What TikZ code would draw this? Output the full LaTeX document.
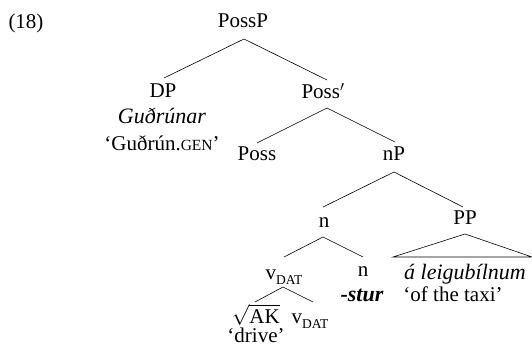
\documentclass[tikz,border=0pt]{standalone}
\usepackage{fontspec}
\setmainfont{Liberation Serif}
\newcommand{\smallcapsgen}{{\fontsize{15.5}{15.5}\selectfont GEN}}
\newcommand{\vdat}{v\raisebox{-0.28em}{\fontsize{13.5}{13.5}\selectfont DAT}}
\begin{document}
\begin{tikzpicture}[x=1pt,y=-1pt,
  lab/.style={font=\fontsize{21}{24}\selectfont, inner sep=0pt, text height=15pt, text depth=3pt, anchor=center},
  ilab/.style={lab, font=\fontsize{22}{24}\selectfont\itshape},
  edge/.style={draw=black, line width=0.6pt}]
\useasboundingbox (0,0) rectangle (532,347);
\node[lab] (ex) at (26,23) {(18)};
\node[lab] (PossP) at (243,22) {PossP};
\node[lab] (DP) at (163,92) {DP};
\node[ilab] (gudr) at (162,118) {Guðrúnar};
\node[lab] (gudrgl) at (162,145) {‘Guðrún.\smallcapsgen’};
\node[lab] (Possbar) at (323,93) {Poss$'$};
\node[lab] (Poss) at (257,155) {Poss};
\node[lab] (nP) at (394,155) {nP};
\node[lab] (n1) at (324,221) {n};
\node[lab] (PP) at (465,219) {PP};
\node[lab] (v1) at (284,273) {\vdat};
\node[lab] (n2) at (363,270) {n};
\node[ilab,font=\fontsize{22}{24}\selectfont\bfseries\itshape] (stur) at (362,295) {-stur};
\node[ilab] (aleig) at (465,273) {á leigubílnum};
\node[lab] (taxi) at (453,295) {‘of the taxi’};
\node[lab] (root) at (256,317) {$\sqrt{\mbox{AK}}$};
\node[lab] (v2) at (310,317) {\vdat};
\node[lab] (drive) at (256,336) {‘drive’};
\coordinate (tl) at (393,257);
\coordinate (tr) at (532,257);
% branches
\draw[edge] ([shift={(1,17)}]PossP.center) -- ([shift={(1,-14)}]DP.center);
\draw[edge] ([shift={(1,17)}]PossP.center) -- ([shift={(4,-13)}]Possbar.center);
\draw[edge] ([shift={(4,15)}]Possbar.center) -- ([shift={(0,-12)}]Poss.center);
\draw[edge] ([shift={(4,15)}]Possbar.center) -- ([shift={(1,-13)}]nP.center);
\draw[edge] ([shift={(0,17)}]nP.center) -- ([shift={(-1,-14)}]n1.center);
\draw[edge] ([shift={(0,17)}]nP.center) -- ([shift={(-2,-12)}]PP.center);
\draw[edge] ([shift={(-1,16)}]n1.center) -- ([shift={(0,-16)}]v1.center);
\draw[edge] ([shift={(-1,16)}]n1.center) -- ([shift={(0,-13)}]n2.center);
\draw[edge] ([shift={(-1,14)}]v1.center) -- ([shift={(-1,-15)}]root.center);
\draw[edge] ([shift={(-1,14)}]v1.center) -- ([shift={(3,-15)}]v2.center);
% triangle
\draw[edge] ([shift={(0,15)}]PP.center) -- (tl) -- (tr) -- cycle;
\end{tikzpicture}
\end{document}
